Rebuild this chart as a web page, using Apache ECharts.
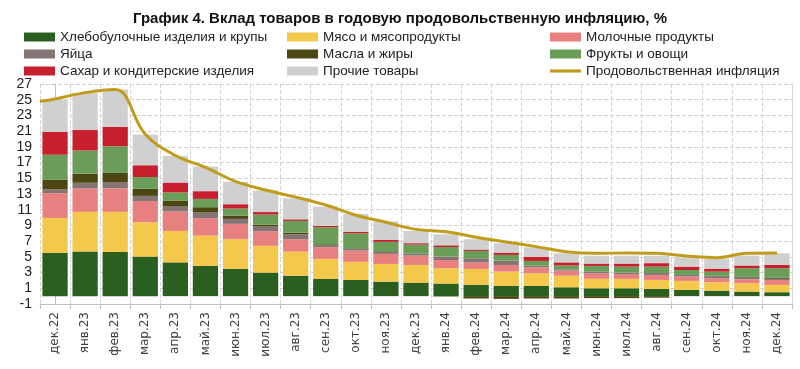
<!DOCTYPE html>
<html><head><meta charset="utf-8">
<script src="https://cdn.jsdelivr.net/npm/echarts@6/dist/echarts.min.js"></script>
<style>html,body{margin:0;padding:0;background:#fff}#c{width:800px;height:369px}</style>
</head><body><div id="c"></div>
<script>
const months = ['дек.22','янв.23','фев.23','мар.23','апр.23','май.23','июн.23','июл.23','авг.23','сен.23','окт.23','ноя.23','дек.23','янв.24','фев.24','мар.24','апр.24','май.24','июн.24','июл.24','авг.24','сен.24','окт.24','ноя.24','дек.24'];
const bread = [5.5,5.67,5.63,5.03,4.3,3.85,3.47,3.0,2.6,2.19,2.06,1.85,1.72,1.6,1.43,1.3,1.3,1.13,1.0,1.0,0.92,0.8,0.7,0.58,0.5];
const meat  = [4.45,5.06,5.1,4.37,4.0,3.85,3.78,3.4,3.07,2.55,2.3,2.25,2.25,1.95,2.03,1.82,1.6,1.47,1.2,1.2,1.14,1.14,1.07,1.06,0.93];
const dairy = [3.15,2.97,3.0,2.7,2.47,2.22,1.95,1.87,1.58,1.49,1.44,1.28,1.19,1.05,0.86,0.85,0.77,0.65,0.7,0.6,0.64,0.56,0.5,0.51,0.63];
const eggs  = [0.5,0.73,0.8,0.66,0.63,0.72,0.63,0.59,0.63,0.25,0.2,0.25,0.22,0.43,0.51,0.55,0.2,0.17,0.2,0.2,0.25,0.2,0.26,0.21,0.15];
const oils  = [1.2,1.15,1.15,0.9,0.73,0.68,0.42,0.24,0.2,0.12,0.08,0.08,0.05,-0.05,-0.3,-0.35,-0.3,-0.3,-0.25,-0.25,-0.2,0.0,0.05,0.1,0.15];
const fruit = [3.2,2.96,3.4,1.5,1.07,1.06,0.9,1.28,1.5,2.17,1.92,1.2,1.13,1.22,0.93,0.73,0.61,0.48,0.75,0.76,0.81,0.63,0.54,1.09,1.19];
const sugar = [2.9,2.6,2.45,1.5,1.26,0.98,0.55,0.32,0.2,0.17,0.2,0.26,0.18,0.22,0.17,0.29,0.52,0.4,0.3,0.39,0.44,0.43,0.38,0.35,0.42];
const other = [4.1,4.7,4.77,3.9,3.4,3.14,2.85,2.74,2.67,2.46,2.27,2.34,1.56,1.4,1.32,1.2,1.2,1.16,1.0,1.0,0.95,1.14,1.24,1.26,1.49];
const foodInfl = [25.1,25.9,26.3,20.6,17.9,16.4,14.6,13.5,12.6,11.6,10.3,9.4,8.5,8.2,7.5,6.9,6.3,5.65,5.45,5.5,5.45,5.1,4.9,5.45,5.5];
const foodInflStart = 24.8; // line value where it meets the left axis edge
const yTicks = {min:-1, max:27, step:2};

const names = ['Хлебобулочные изделия и крупы','Мясо и мясопродукты','Молочные продукты','Яйца','Масла и жиры','Фрукты и овощи','Сахар и кондитерские изделия','Прочие товары','Продовольственная инфляция'];
const colors = ['#2b5f1f','#f3c84b','#e98080','#857473','#4b4612','#6a9d58','#c71f2d','#d0d0d0','#c19c1c'];
const stacks = [bread,meat,dairy,eggs,oils,fruit,sugar,other];

const chart = echarts.init(document.getElementById('c'), null, {renderer:'canvas'});
const barSeries = stacks.map((d,i)=>({
  name:names[i], type:'bar', stack:'s', data:d, barCategoryGap:'16%',
  itemStyle:{color:colors[i]}, animation:false
}));
const lineData = [[-0.5, foodInflStart]].concat(foodInfl.map((v,i)=>[i,v]));
const lineIcon = 'path://M0,0 H30 V3 H0 Z';
const legText = {fontFamily:'Liberation Sans', fontSize:13.5, color:'#222', lineHeight:14};
function leg(left, items){
  return {left:left, top:25, orient:'vertical', itemWidth:31, itemHeight:9, itemGap:3,
    textStyle:legText, selectedMode:false,
    data:items.map(i=>({name:names[i], icon: i===8?lineIcon:'rect'}))};
}
chart.setOption({
  animation:false,
  title:{text:'График 4. Вклад товаров в годовую продовольственную инфляцию, %', left:'center', top:6,
    textStyle:{fontFamily:'Liberation Sans', fontWeight:'bold', fontSize:15, color:'#111'}},
  legend:[leg(19,[0,3,6]), leg(282,[1,4,7]), leg(545,[2,5,8])],
  grid:{left:40, right:8, top:84, bottom:65},
  xAxis:[{type:'category', data:months,
    axisLine:{onZero:false, lineStyle:{color:'#bfbfbf'}},
    axisTick:{show:true, length:5, lineStyle:{color:'#bfbfbf'}},
    splitLine:{show:true, lineStyle:{type:'dashed', color:'#d4d4d4'}},
    axisLabel:{rotate:90, fontFamily:'DejaVu Sans', fontSize:12, color:'#404040', margin:8}},
    {type:'value', min:-0.5, max:months.length-0.5, show:false}],
  yAxis:[{type:'value', min:yTicks.min, max:yTicks.max, interval:yTicks.step,
    axisLine:{show:true, lineStyle:{color:'#bfbfbf'}},
    axisTick:{show:true, length:4, lineStyle:{color:'#bfbfbf'}},
    splitLine:{show:true, lineStyle:{type:'dashed', color:'#d4d4d4'}},
    axisLabel:{fontFamily:'Liberation Sans', fontSize:14, color:'#222', margin:8}},
    {type:'value', position:'right', min:yTicks.min, max:yTicks.max, interval:yTicks.step,
    axisLine:{show:true, lineStyle:{color:'#d9d9d9'}}, axisTick:{show:false}, axisLabel:{show:false}, splitLine:{show:false}}],
  series: barSeries.concat([{name:names[8], type:'line', xAxisIndex:1, data:lineData, smooth:0.4, symbol:'none',
    lineStyle:{color:colors[8], width:3}, itemStyle:{color:colors[8]}, z:5}])
});
</script></body></html>
